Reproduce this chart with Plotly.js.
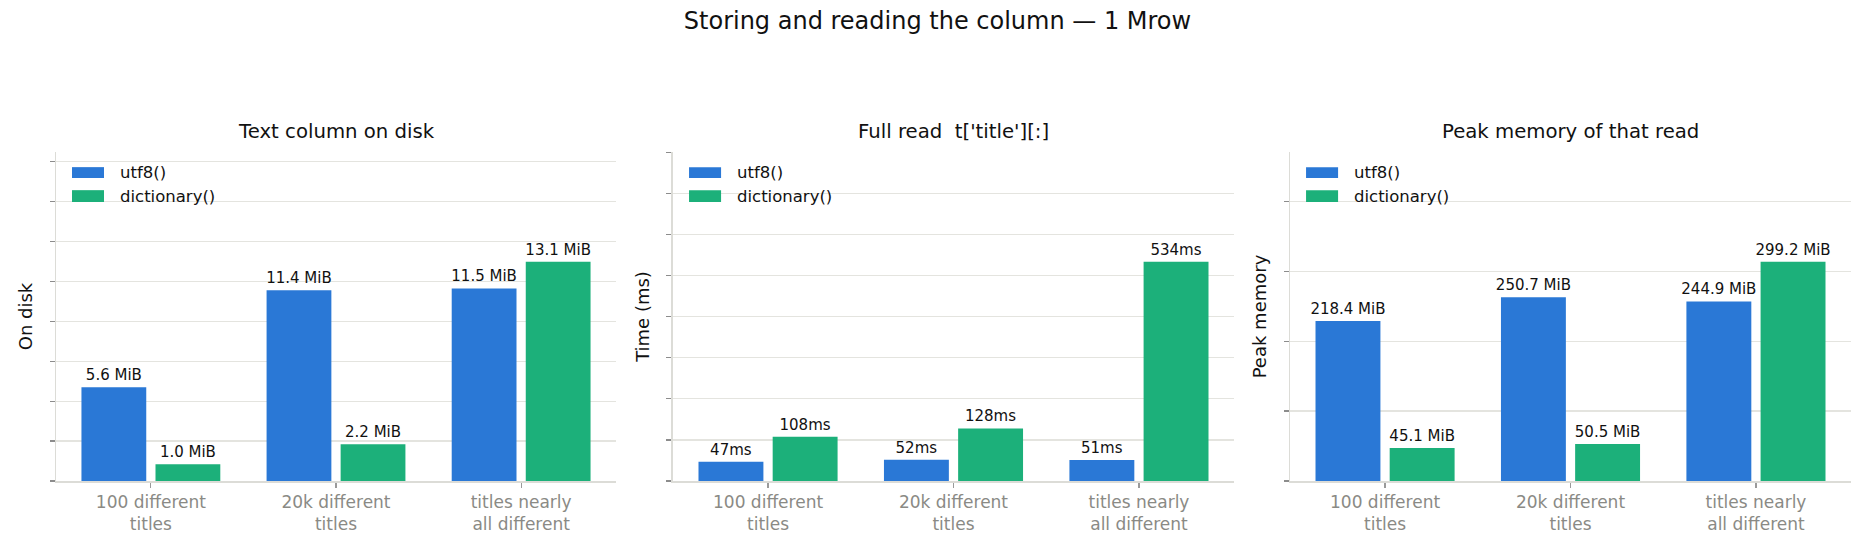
<!DOCTYPE html>
<html>
<head>
<meta charset="utf-8">
<script src="https://cdn.plot.ly/plotly-3.0.1.min.js"></script>
<style>
  html, body { margin: 0; padding: 0; background: #fff; }
  #chart { width: 1875px; height: 555px; }
</style>
</head>
<body>
<div id="chart"></div>
<script>
// categories and series values
var categories = ['100 different<br>titles', '20k different<br>titles', 'titles nearly<br>all different'];
var seriesNames = ['utf8()', 'dictionary()'];

var diskUtf8 = [5.6, 11.4, 11.5];      // MiB
var diskDict = [1.0, 2.2, 13.1];
var readUtf8 = [47, 52, 51];           // ms
var readDict = [108, 128, 534];
var memUtf8 = [218.4, 250.7, 244.9];   // MiB
var memDict = [45.1, 50.5, 299.2];

var panelTitles = ['Text column on disk', "Full read  t['title'][:]", 'Peak memory of that read'];
var axisTitles = ['On disk', 'Time (ms)', 'Peak memory'];

var BLUE = '#2a78d6';
var GREEN = '#1cb07a';
var FONT = 'DejaVu Sans, sans-serif';
var MIB = 1048576;

function mibLabel(v) { return v.toFixed(1) + ' MiB'; }
function msLabel(v) { return Math.round(v) + 'ms'; }

var panels = [
  { a: diskUtf8, b: diskDict, fmt: mibLabel, step: 2.5e6 / MIB },
  { a: readUtf8, b: readDict, fmt: msLabel, step: 100 },
  { a: memUtf8, b: memDict, fmt: mibLabel, step: 1e8 / MIB }
];

var domains = [[0, 0.31198], [0.34373, 0.65627], [0.68747, 1]];

var data = [];
var layout = {
  width: 1875,
  height: 555,
  margin: { l: 56, r: 24, t: 152, b: 74 },
  paper_bgcolor: '#ffffff',
  plot_bgcolor: '#ffffff',
  showlegend: false,
  barmode: 'group',
  bargap: 0.2,
  bargroupgap: 0.125,
  font: { family: FONT, size: 15, color: '#111111' },
  title: {
    text: 'Storing and reading the column — 1 Mrow',
    font: { family: FONT, size: 24, color: '#111111' },
    x: 0.5, xanchor: 'center',
    yref: 'container', y: 0.962, yanchor: 'middle'
  },
  annotations: [],
  shapes: []
};

panels.forEach(function (p, i) {
  var n = i === 0 ? '' : String(i + 1);
  var xa = 'x' + n, ya = 'y' + n;
  var top = Math.max.apply(null, p.a.concat(p.b)) * 1.5;

  [p.a, p.b].forEach(function (vals, k) {
    data.push({
      type: 'bar',
      name: seriesNames[k],
      x: categories,
      y: vals,
      xaxis: xa,
      yaxis: ya,
      marker: { color: k === 0 ? BLUE : GREEN, line: { width: 0 } },
      text: vals.map(p.fmt),
      textposition: 'outside',
      constraintext: 'none',
      cliponaxis: false,
      textfont: { family: FONT, size: 15, color: '#111111' },
      hoverinfo: 'skip'
    });
  });

  var tv = [];
  for (var t = 0; t <= top + 1e-9; t += p.step) tv.push(t);

  layout['xaxis' + n] = {
    domain: domains[i],
    anchor: ya,
    type: 'category',
    range: [-0.5125, 2.5125],
    showline: true,
    linecolor: '#dcdcd7',
    linewidth: 1.5,
    showgrid: false,
    zeroline: false,
    ticks: 'outside',
    ticklen: 5,
    tickwidth: 1.2,
    tickcolor: '#9a9a9a',
    tickfont: { family: FONT, size: 17, color: '#8a8a85' },
    fixedrange: true
  };
  layout['yaxis' + n] = {
    domain: [0, 1],
    anchor: xa,
    range: [0, top],
    tickmode: 'array',
    tickvals: tv,
    showticklabels: false,
    ticks: 'outside',
    ticklen: 5,
    tickwidth: 1.2,
    tickcolor: '#8c8c8c',
    showline: true,
    linecolor: '#dcdcd7',
    linewidth: 1.5,
    showgrid: true,
    gridcolor: '#e4e4df',
    gridwidth: 1.2,
    zeroline: false,
    title: { text: axisTitles[i], font: { family: FONT, size: 18, color: '#111111' }, standoff: 12 },
    fixedrange: true
  };

  // panel title
  layout.annotations.push({
    xref: xa + ' domain', yref: 'paper',
    x: 0.5, y: 1.0608, xanchor: 'center', yanchor: 'middle',
    text: panelTitles[i], showarrow: false,
    font: { family: FONT, size: 19.7, color: '#111111' }
  });

  // legend, upper left inside each panel
  [[0.921, 0.954], [0.848, 0.884]].forEach(function (yy, k) {
    layout.shapes.push({
      type: 'rect', xref: xa + ' domain', yref: ya + ' domain',
      x0: 0.0286, x1: 0.0857, y0: yy[0], y1: yy[1],
      fillcolor: k === 0 ? BLUE : GREEN, line: { width: 0 }
    });
    layout.annotations.push({
      xref: xa + ' domain', yref: ya + ' domain',
      x: 0.111, y: (yy[0] + yy[1]) / 2, xanchor: 'left', yanchor: 'middle',
      text: seriesNames[k], showarrow: false,
      font: { family: FONT, size: 16.5, color: '#111111' }
    });
  });
});

Plotly.newPlot('chart', data, layout, { displayModeBar: false, staticPlot: true });
</script>
</body>
</html>
